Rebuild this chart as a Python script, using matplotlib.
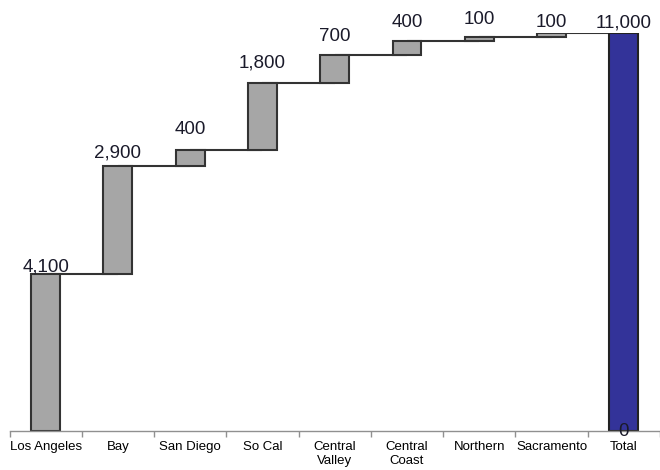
import matplotlib.pyplot as plt
import numpy as np

# Waterfall data
categories = ['Los Angeles', 'Bay', 'San Diego', 'So Cal', 'Central\nValley',
              'Central\nCoast', 'Northern', 'Sacramento', 'Total']
steps = [4340, 2980, 440, 1850, 780, 390, 110, 110]
value_labels = ['4,100', '2,900', '400', '1,800', '700', '400', '100', '100', '11,000']
total = 11000

# gap (pixels) between the top of each bar and its label baseline
label_gap_px = [2, 9, 16, 16, 14, 14, 13, 6, 6]

plt.rcParams['font.family'] = ['Liberation Sans', 'DejaVu Sans']

fig = plt.figure(figsize=(6.6, 4.7), dpi=100)
ax = fig.add_axes([9.5 / 660, 39 / 470, 650.5 / 660, 398 / 470])

x = np.arange(len(categories))
cum = np.cumsum(steps)
bottoms = np.concatenate([[0], cum[:-1]])

# connector lines between bars
for i, level in enumerate(cum):
    ax.plot([x[i], x[i + 1]], [level, level], color='#333333', lw=1.5, zorder=1,
            solid_capstyle='butt')

ax.bar(x[:-1], steps, bottom=bottoms, width=0.40, color='#A6A6A6',
       edgecolor='#333333', linewidth=1.5, zorder=2)
ax.bar(x[-1], total, width=0.40, color='#333399', edgecolor='#222222',
       linewidth=1.5, zorder=2)

tops = list(cum) + [total]
for xi, top, lab, gap in zip(x, tops, value_labels, label_gap_px):
    ax.annotate(lab, (xi, top), xytext=(0, gap * 0.72), textcoords='offset points',
                ha='center', va='baseline', fontsize=13.5, color='#1a1a2a',
                annotation_clip=False)
ax.text(x[-1], 0, '0', ha='center', va='center', fontsize=13.5, color='#1a1a2a')

ax.set_xlim(-0.5, 8.5)
ax.set_ylim(0, total)

for s in ['top', 'right', 'left']:
    ax.spines[s].set_visible(False)
ax.spines['bottom'].set_color('#909090')
ax.spines['bottom'].set_linewidth(1)

ax.set_yticks([])
ax.set_xticks(x)
ax.set_xticklabels(categories, family=['Liberation Sans Narrow', 'Liberation Sans'],
                   fontsize=9.5, linespacing=1.25)
ax.set_xticks(np.arange(-0.5, 9, 1), minor=True)
ax.tick_params(axis='x', which='major', length=0, pad=7)
ax.tick_params(axis='x', which='minor', length=4, color='#909090', width=1)

fig.savefig('out.png', dpi=100)
